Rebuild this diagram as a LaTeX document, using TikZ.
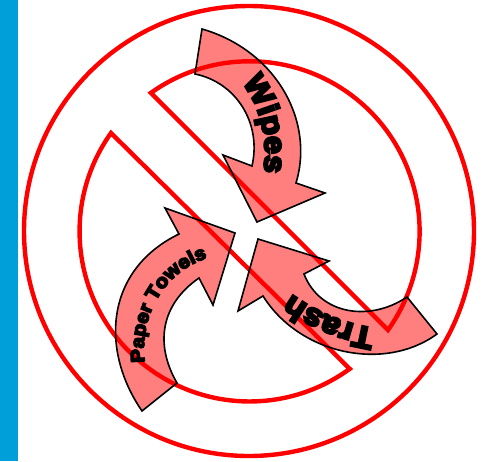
\documentclass[tikz,border=0pt]{standalone}
\usepackage{fontspec}
\usetikzlibrary{decorations.text}
\newfontfamily\wordfont[BoldFeatures={FakeBold=8,FakeStretch=1.08}]{Liberation Sans}
\definecolor{sidebar}{HTML}{009FDA}
\tikzset{
  noline/.style={draw=red,line width=4.4pt,line join=miter},
  band/.style={draw=black,line width=1.6pt,line join=miter,fill=red,fill opacity=.5},
  bandtext/.style={decorate,decoration={text along path,text align=center,text format delimiters={|}{|},text={#1}}}
}
\begin{document}
\begin{tikzpicture}[x=1pt,y=-1pt]
  \useasboundingbox (0,0) rectangle (487,461);
  \fill[sidebar] (0,0) rectangle (18,461);
  % ring and the two halves
  \draw[noline] (249,231) circle (225);
  \draw[noline] (388,330) arc (35.5:-125.5:170) -- cycle;
  \draw[noline] (111,133) arc (215.4:53.9:170) -- cycle;
  % Wipes
  \draw[band] (202,29) -- (195,74) .. controls (235,82) and (262,122) .. (252,166)
    -- (223,155) -- (257,222) -- (325,193) -- (296,183)
    .. controls (315,120) and (275,50) .. (202,29) -- cycle;
  \path[bandtext={|\wordfont\bfseries\fontsize{30}{30}\selectfont|Wipes}]
    (238,78) .. controls (258,100) and (270,135) .. (263,178);
  % Trash
  \draw[band] (258,239) -- (238,311) -- (263,296)
    .. controls (300,355) and (385,372) .. (437,334)
    -- (407,297) .. controls (370,322) and (320,315) .. (304,274)
    -- (329,261) -- cycle;
  \path[bandtext={|\wordfont\bfseries\fontsize{31}{31}\selectfont|Trash}]
    (388,330) .. controls (350,327) and (312,312) .. (281,286);
  % Paper Towels
  \draw[band] (235,233) -- (165,208) -- (179,234)
    .. controls (105,270) and (100,350) .. (142,411)
    -- (177,383) .. controls (155,345) and (160,305) .. (199,278)
    -- (213,305) -- cycle;
  \path[bandtext={|\wordfont\bfseries\fontsize{19}{19}\selectfont|Paper Towels}]
    (145,365) .. controls (138,315) and (165,270) .. (210,257);
\end{tikzpicture}
\end{document}
